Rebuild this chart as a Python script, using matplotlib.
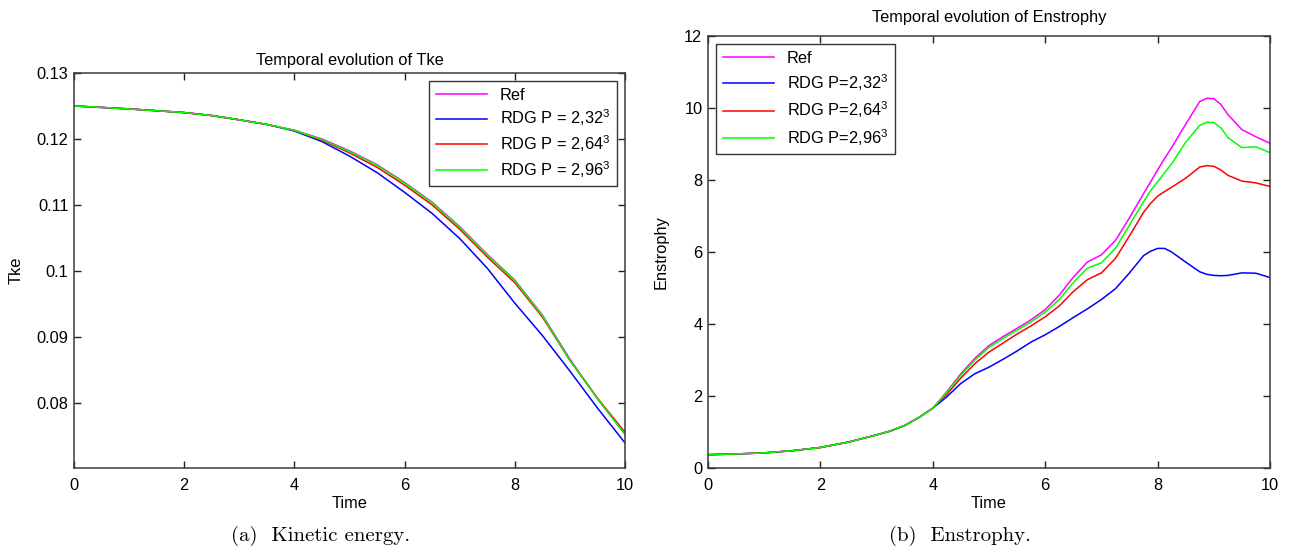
import numpy as np
import matplotlib
matplotlib.use("Agg")
import matplotlib.pyplot as plt

plt.rcParams["font.family"] = ["Liberation Sans", "DejaVu Sans"]
plt.rcParams["mathtext.fontset"] = "custom"
plt.rcParams["mathtext.rm"] = "Liberation Sans"
plt.rcParams["mathtext.it"] = "Liberation Sans"

# --- kinetic energy (left) ---
t_tke = [0, 0.5, 1, 1.5, 2, 2.5, 3, 3.5, 4, 4.5, 5, 5.5, 6, 6.5, 7, 7.5, 8, 8.5, 9, 9.5, 10]
tke_ref = [0.1250, 0.12478, 0.12455, 0.12428, 0.1240, 0.12355, 0.1229, 0.1222, 0.1213,
           0.1200, 0.1182, 0.1161, 0.1134, 0.1104, 0.1067, 0.1025, 0.0986, 0.0933,
           0.0866, 0.0806, 0.0752]
tke_p32 = [0.1250, 0.12478, 0.12455, 0.12428, 0.1240, 0.12355, 0.1229, 0.1222, 0.1212,
           0.1196, 0.1174, 0.1149, 0.1119, 0.1087, 0.1049, 0.1004, 0.0951, 0.0902,
           0.0848, 0.0792, 0.0739]
tke_p64 = [0.1250, 0.12478, 0.12455, 0.12428, 0.1240, 0.12355, 0.1229, 0.1222, 0.1213,
           0.1198, 0.1179, 0.1157, 0.1130, 0.1100, 0.1063, 0.1021, 0.0982, 0.0930,
           0.0864, 0.0807, 0.0755]
tke_p96 = [0.1250, 0.12478, 0.12455, 0.12428, 0.1240, 0.12355, 0.1229, 0.1222, 0.1213,
           0.1199, 0.1181, 0.1160, 0.1133, 0.1103, 0.1066, 0.1024, 0.0985, 0.0932,
           0.0864, 0.0806, 0.0752]

# --- enstrophy (right) ---
t_ens = [0, 0.5, 1, 1.5, 2, 2.5, 3, 3.25, 3.5, 3.75, 4, 4.25, 4.5, 4.75, 5, 5.25, 5.5,
         5.75, 6, 6.25, 6.5, 6.75, 7, 7.25, 7.5, 7.75, 7.875, 8, 8.125, 8.25, 8.5,
         8.75, 8.875, 9, 9.125, 9.25, 9.5, 9.75, 10]
early = [0.37, 0.39, 0.42, 0.48, 0.57, 0.72, 0.92, 1.03, 1.18, 1.40, 1.66]
ens_ref = early + [2.12, 2.62, 3.05, 3.40, 3.65, 3.88, 4.12, 4.40, 4.80, 5.30, 5.72,
                   5.92, 6.32, 6.95, 7.62, 7.95, 8.28, 8.60, 8.90, 9.55, 10.18, 10.27,
                   10.26, 10.10, 9.82, 9.40, 9.20, 9.02]
ens_p32 = early + [1.98, 2.35, 2.62, 2.80, 3.02, 3.25, 3.50, 3.70, 3.93, 4.18, 4.42,
                   4.68, 4.98, 5.42, 5.90, 6.02, 6.10, 6.10, 6.00, 5.72, 5.45, 5.38,
                   5.35, 5.34, 5.35, 5.42, 5.41, 5.29]
ens_p64 = early + [2.05, 2.50, 2.90, 3.22, 3.47, 3.72, 3.95, 4.20, 4.50, 4.90, 5.23,
                   5.42, 5.82, 6.45, 7.10, 7.35, 7.55, 7.68, 7.80, 8.05, 8.36, 8.40,
                   8.38, 8.28, 8.13, 7.97, 7.92, 7.82]
ens_p96 = early + [2.10, 2.58, 3.00, 3.35, 3.60, 3.83, 4.06, 4.33, 4.68, 5.15, 5.55,
                   5.70, 6.10, 6.75, 7.40, 7.70, 7.95, 8.20, 8.45, 9.05, 9.52, 9.60,
                   9.60, 9.45, 9.18, 8.90, 8.92, 8.76]

colors = ["#ff00ff", "#0000ff", "#ff0000", "#00ff00"]
fs = 11.8


def style_axes(ax):
    for s in ax.spines.values():
        s.set_color("#3a3a3a")
        s.set_linewidth(1.1)
    ax.tick_params(direction="in", top=True, right=True, length=5,
                   width=1.0, labelsize=fs, color="#222222", pad=4)
    ax.tick_params(axis="x", pad=7)


fig = plt.figure(figsize=(12.9, 5.5), dpi=100)

ax1 = fig.add_axes([74 / 1290, 82 / 550, 551 / 1290, 395 / 550])
labels1 = ["Ref", "RDG P = 2,32$^3$", "RDG P = 2,64$^3$", "RDG P = 2,96$^3$"]
for y, c, lab in zip([tke_ref, tke_p32, tke_p64, tke_p96], colors, labels1):
    ax1.plot(t_tke, y, color=c, lw=1.1, label=lab)
ax1.set_xlim(0, 10)
ax1.set_ylim(0.0701, 0.13)
ax1.set_xticks([0, 2, 4, 6, 8, 10])
ax1.set_yticks([0.08, 0.09, 0.1, 0.11, 0.12, 0.13])
ax1.set_yticklabels(["0.08", "0.09", "0.1", "0.11", "0.12", "0.13"])
ax1.set_title("Temporal evolution of Tke", fontsize=fs, pad=6)
ax1.set_xlabel("Time", fontsize=fs, labelpad=2)
ax1.set_ylabel("Tke", fontsize=fs, labelpad=9)
style_axes(ax1)
leg1 = ax1.legend(loc="upper right", fontsize=fs, frameon=True, fancybox=False,
                  edgecolor="black", borderaxespad=0.5, handlelength=3.1,
                  labelspacing=0.3, borderpad=0.4)
leg1.get_frame().set_linewidth(1.0)

ax2 = fig.add_axes([708 / 1290, 82 / 550, 562 / 1290, 432 / 550])
labels2 = ["Ref", "RDG P=2,32$^3$", "RDG P=2,64$^3$", "RDG P=2,96$^3$"]
for y, c, lab in zip([ens_ref, ens_p32, ens_p64, ens_p96], colors, labels2):
    ax2.plot(t_ens, y, color=c, lw=1.1, label=lab)
ax2.set_xlim(0, 10)
ax2.set_ylim(0, 12)
ax2.set_xticks([0, 2, 4, 6, 8, 10])
ax2.set_yticks([0, 2, 4, 6, 8, 10, 12])
ax2.set_title("Temporal evolution of Enstrophy", fontsize=fs, pad=10)
ax2.set_xlabel("Time", fontsize=fs, labelpad=2)
ax2.set_ylabel("Enstrophy", fontsize=fs, labelpad=11)
style_axes(ax2)
leg2 = ax2.legend(loc="upper left", fontsize=fs, frameon=True, fancybox=False,
                  edgecolor="black", borderaxespad=0.5, handlelength=3.1,
                  labelspacing=0.4, borderpad=0.4)
leg2.get_frame().set_linewidth(1.0)

fig.text(321 / 1290, 1 - 536 / 550, "(a)  Kinetic energy.", family="cmr10",
         fontsize=15, ha="center", va="center")
fig.text(960 / 1290, 1 - 536 / 550, "(b)  Enstrophy.", family="cmr10",
         fontsize=15, ha="center", va="center")

fig.savefig("out.png", dpi=100)
